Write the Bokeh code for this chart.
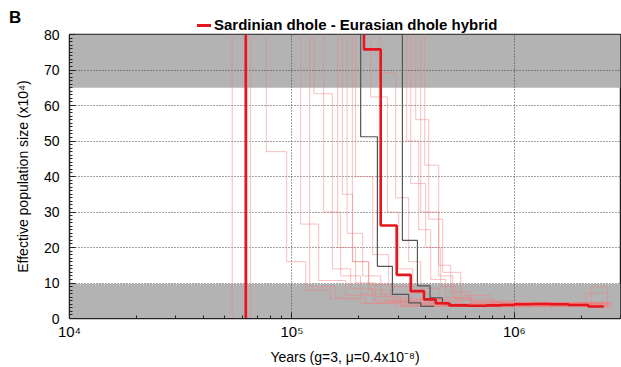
from bokeh.plotting import figure
from bokeh.layouts import column
from bokeh.models import (Range1d, BoxAnnotation, Div, SingleIntervalTicker, LogTicker)
from bokeh.embed import file_html
from bokeh.resources import INLINE

# ---------------- data ----------------
x_start, x_end = 1e4, 3.0e6
y_start, y_end = 0, 80
band_low_top = 9.7
band_high_bottom = 65
x_tick_labels = {10000: "10\u2074", 100000: "10\u2075", 1000000: "10\u2076"}

# main curve (years, Ne x10^4), step "after"
main_years = [6.2e4, 6.2e4, 2.108e5, 2.506e5, 2.958e5, 3.42e5, 3.925e5, 4.43e5,
              5.085e5, 6.2e5, 7.5e5, 8.7e5, 1.0e6, 1.2e6, 1.45e6, 1.75e6, 2.15e6, 2.52e6]
main_ne = [0, 150, 75.8, 26.2, 12.3, 7.7, 5.4, 4.3,
           3.7, 3.6, 3.7, 3.8, 4.0, 4.1, 4.0, 3.8, 3.4, 3.4]

# dark reference curves
dark1_years = [1e4, 2.037e5, 2.422e5, 2.829e5, 3.349e5, 3.793e5, 4.353e5]
dark1_ne = [150, 51.2, 14.7, 6.8, 4.4, 3.4, 3.4]
dark2_years = [1e4, 3.138e5, 3.666e5, 4.177e5, 4.749e5, 5.2e5]
dark2_ne = [150, 22, 9.2, 5.8, 4.2, 4.2]

# bootstrap curves
boot_years = [
    [5.39e4, 5.39e4, 7.67e4, 9.47e4, 1.153e5, 1.493e5, 2.037e5, 3.083e5, 6.0e5, 1.2e6, 2.0e6, 2.72e6],
    [6.30e4, 6.30e4, 1.094e5, 1.319e5, 1.744e5, 2.379e5, 3.42e5, 7.0e5, 1.5e6, 2.6e6],
    [6.52e4, 6.52e4, 1.256e5, 1.52e5, 1.837e5, 2.307e5, 3.083e5, 8.0e5, 1.6e6, 2.66e6],
    [1e4, 1.202e5, 1.573e5, 2.145e5, 2.928e5, 2.45e6],
    [1e4, 1.389e5, 1.656e5, 2.037e5, 2.64e5, 3.793e5, 1.0e6, 2.77e6],
    [1e4, 1.606e5, 1.934e5, 2.379e5, 3.083e5, 4.666e5, 1.3e6, 2.72e6],
    [1e4, 1.685e5, 1.875e5, 2.213e5, 2.78e5, 4.207e5, 2.45e6],
    [1e4, 1.771e5, 2.08e5, 2.506e5, 3.247e5, 4.666e5, 1.1e6, 2.58e6],
    [1e4, 1.869e5, 2.213e5, 2.838e5, 3.793e5, 6.4e5, 2.6e6],
    [1e4, 1.934e5, 2.307e5, 2.723e5, 3.42e5, 4.914e5, 1.4e6, 2.7e6],
    [1e4, 2.259e5, 2.687e5, 3.02e5, 3.491e5, 4.207e5, 5.741e5, 1.0e6, 2.207e6, 2.62e6, 2.63e6],
    [1e4, 2.48e5, 2.928e5, 3.349e5, 3.793e5, 4.57e5, 6.369e5, 2.096e6, 2.577e6],
    [1e4, 3.281e5, 3.715e5, 4.207e5, 4.914e5, 6.369e5, 1.2e6, 2.7e6],
    [1e4, 3.42e5, 3.995e5, 4.666e5, 5.451e5, 8.0e5, 2.65e6],
    [1e4, 3.602e5, 4.121e5, 4.764e5, 5.741e5, 7.833e5, 1.5e6, 2.75e6],
    [1e4, 3.793e5, 4.57e5, 5.175e5, 6.369e5, 1.0e6, 2.6e6],
    [1e4, 3.954e5, 4.57e5, 5.284e5, 6.369e5, 8.689e5, 2.7e6],
]
boot_ne = [
    [0, 150, 47, 16, 8.0, 5.5, 4.2, 3.5, 3.3, 3.4, 3.2, 3.2],
    [0, 150, 26.6, 10.7, 6.5, 4.6, 3.6, 3.4, 3.6, 3.6],
    [0, 150, 63.3, 14, 8.5, 5.2, 4.0, 3.7, 3.9, 3.9],
    [150, 9.0, 5.8, 4.3, 3.4, 3.4],
    [150, 30, 12, 7, 4.8, 3.8, 3.5, 3.5],
    [150, 20, 10, 6.2, 4.4, 3.7, 3.9, 3.9],
    [150, 35, 16, 8, 5, 3.9, 3.9],
    [150, 24, 12, 6.8, 4.6, 3.8, 4.2, 4.2],
    [150, 16, 9.5, 5.7, 4.2, 3.6, 3.6],
    [150, 40, 18, 9, 5.3, 4.0, 4.3, 4.3],
    [150, 62.4, 30, 14, 7, 4.8, 4.0, 4.2, 8.9, 3.5, 3.5],
    [150, 69.2, 34, 16, 8.5, 5.2, 4.2, 7.2, 7.2],
    [150, 50, 25, 11, 6, 4.5, 4.4, 4.4],
    [150, 38, 20, 9, 5.5, 4.3, 4.3],
    [150, 56, 28, 13, 6.5, 4.6, 4.5, 4.5],
    [150, 30, 15, 7.5, 5, 4.5, 4.5],
    [150, 43.2, 12, 5.8, 4.8, 4.3, 4.3],
]

legend_label = "Sardinian dhole - Eurasian dhole hybrid"
panel_letter = "B"
x_label = "Years (g=3, \u03bc=0.4x10\u207b\u2078)"
y_label = "Effective population size (x10\u2074)"

FONT = "Liberation Sans"
RED = "#e3171c"
FRAME_TOP = 34      # frame top in the page, px
DIV_H = 24          # header block height; its text may overflow below
MAIN_TOP = FRAME_TOP - DIV_H

# ---------------- header (panel letter + legend) ----------------
header_html = (
    f'<div style="position:relative;width:621px;height:{DIV_H}px;overflow:visible;'
    f'font-family:\'{FONT}\',Arial,sans-serif;color:black;">'
    f'<span style="position:absolute;left:9px;top:8.6px;font-size:17px;line-height:17px;'
    f'font-weight:bold;white-space:nowrap;">{panel_letter}</span>'
    f'<span style="position:absolute;left:197px;top:23.5px;width:14px;height:3px;'
    f'background:{RED};"></span>'
    f'<span style="position:absolute;left:214px;top:17.3px;font-size:15px;line-height:15px;'
    f'font-weight:bold;white-space:nowrap;">{legend_label}</span>'
    '</div>'
)
hdr = Div(text=header_html, width=621, height=DIV_H, margin=0,
          styles={"overflow": "visible"})

# ---------------- main figure ----------------
p = figure(width=621, height=367 - DIV_H, x_axis_type="log",
           x_range=Range1d(x_start, x_end), y_range=Range1d(y_start, y_end),
           output_backend="svg", toolbar_location=None,
           min_border_left=69, min_border_right=1, min_border_top=MAIN_TOP,
           min_border_bottom=49)
p.background_fill_color = "white"
p.border_fill_color = "white"
p.border_fill_alpha = 0
p.outline_line_color = "#222222"
p.outline_line_width = 1.5

# gray bands
p.add_layout(BoxAnnotation(top=band_low_top, fill_color="#b3b3b3", fill_alpha=1,
                           line_alpha=0, level="image"))
p.add_layout(BoxAnnotation(bottom=band_high_bottom, fill_color="#b3b3b3", fill_alpha=1,
                           line_alpha=0, level="image"))

# grids
for g in (p.xgrid, p.ygrid):
    g.grid_line_color = "#333333"
    g.grid_line_dash = "1 2"
    g.grid_line_width = 1
    g.grid_line_alpha = 0.9

# curves
for xs, ys in zip(boot_years, boot_ne):
    p.step(xs, ys, mode="after", line_color="#f08080", line_alpha=0.5, line_width=1.0)
p.step(dark1_years, dark1_ne, mode="after", line_color="#555555", line_width=1.2)
p.step(dark2_years, dark2_ne, mode="after", line_color="#555555", line_width=1.2)
p.step(main_years, main_ne, mode="after", line_color=RED, line_width=2.6)

# axes
p.xaxis.ticker = LogTicker(num_minor_ticks=10)
p.xaxis.major_label_overrides = x_tick_labels
p.yaxis.ticker = SingleIntervalTicker(interval=10, num_minor_ticks=10)
for ax in (p.xaxis[0], p.yaxis[0]):
    ax.major_tick_in = 6
    ax.major_tick_out = 0
    ax.minor_tick_in = 3
    ax.minor_tick_out = 0
    ax.axis_line_color = "#222222"
    ax.major_tick_line_color = "#222222"
    ax.minor_tick_line_color = "#222222"
    ax.major_label_text_font = FONT
    ax.major_label_text_color = "black"
    ax.axis_label_text_font = FONT
    ax.axis_label_text_font_size = "14px"
    ax.axis_label_text_font_style = "normal"
    ax.axis_label_text_color = "black"
p.xaxis.major_label_text_font_size = "15px"
p.yaxis.major_label_text_font_size = "14px"
p.xaxis.axis_label = x_label
p.yaxis.axis_label = y_label
p.yaxis.major_label_standoff = 10
p.yaxis.axis_label_standoff = 10
p.xaxis.major_label_standoff = 4
p.xaxis.axis_label_standoff = 6

layout = column(hdr, p, spacing=0)
open("out.html", "w").write(file_html(layout, INLINE))
